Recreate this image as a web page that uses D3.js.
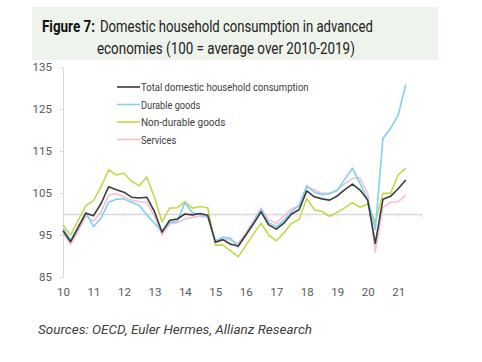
<!DOCTYPE html>
<html>
<head>
<meta charset="utf-8">
<script src="https://cdn.jsdelivr.net/npm/d3@7"></script>
<style>
  html, body { margin: 0; padding: 0; background: #ffffff; }
  svg { display: block; }
  text { font-family: "Liberation Sans Narrow", "Roboto", "Liberation Sans", sans-serif; }
</style>
</head>
<body>
<svg id="chart" width="482" height="362"></svg>
<script>
// ---- Data (quarterly, 2010Q1 .. 2021Q2) ----
const yearLabels = ["10","11","12","13","14","15","16","17","18","19","20","21"];
const seriesNames = ["Total domestic household consumption", "Durable goods", "Non-durable goods", "Services"];
const total = [96.0,93.4,96.8,100.2,99.6,102.5,106.5,105.8,105.2,104.0,103.8,104.0,100.6,95.7,98.5,98.8,
  100.0,99.8,100.1,99.7,93.3,93.9,92.8,92.4,95.0,97.6,100.5,97.4,96.4,97.8,100.0,101.0,
  105.5,104.1,103.6,103.3,104.3,105.8,107.1,105.7,103.3,93.0,103.5,104.2,106.0,108.1];
const durable = [96.6,93.8,97.0,100.4,97.0,99.0,102.8,103.5,103.6,102.8,102.1,99.8,97.8,95.8,98.0,98.3,
  102.7,100.3,99.8,99.3,93.6,94.5,94.2,92.1,95.0,98.0,101.1,97.9,97.0,98.5,100.6,102.1,
  106.7,105.2,104.6,104.9,105.6,108.3,110.9,107.3,103.5,96.3,118.0,120.4,123.5,130.8];
const nonDurable = [97.4,95.0,98.5,102.0,103.2,106.5,110.5,109.3,109.7,107.8,106.7,108.8,104.0,98.2,101.4,101.5,
  102.9,101.4,101.8,101.5,92.6,92.6,91.2,89.8,92.5,95.2,97.8,95.0,93.6,95.5,97.8,98.7,
  103.7,101.0,100.6,99.4,100.4,101.5,102.7,101.6,102.4,97.9,104.9,104.9,109.3,110.9];
const services = [95.4,92.8,96.0,99.5,98.3,100.5,104.5,104.9,104.1,103.3,102.9,102.8,99.5,95.0,97.6,97.9,
  98.8,99.2,99.5,99.3,93.6,94.0,93.8,93.0,95.5,98.5,101.4,98.6,97.8,99.5,101.3,101.8,
  106.4,105.7,104.9,104.9,105.8,107.2,108.5,108.5,105.0,90.9,101.5,102.8,102.9,104.5];
const yTicks = [85, 95, 105, 115, 125, 135];
const colors = ["#3a3a3a", "#7fd0f2", "#c4d84b", "#f3c1cd"];

const svg = d3.select("#chart");

// place text at (x, y) and squeeze it horizontally to a target width (keeps font height)
function squeezed(parent, x0, y0, target, size, str) {
  const t = parent.append("text").attr("x", 0).attr("y", 0).attr("font-size", size).text(str);
  const w = t.node().getComputedTextLength();
  const s = w > 0 ? Math.min(1, target / w) : 1;
  t.attr("transform", `translate(${x0},${y0}) scale(${s},1)`);
  return t;
}

// ---- Title box ----
svg.append("rect").attr("x", 32).attr("y", 7).attr("width", 406).attr("height", 53).attr("fill", "#eef3eb");
squeezed(svg, 42, 32, 53, 16.5, "Figure 7:").attr("font-weight", "bold").attr("fill", "#111");
// re-measure after bold
(function () {
  const t = svg.selectAll("text").filter(function () { return this.textContent === "Figure 7:"; });
  t.attr("transform", null);
  const w = t.node().getComputedTextLength();
  t.attr("transform", `translate(42,32) scale(${Math.min(1, 53 / w)},1)`);
})();
squeezed(svg, 100, 32, 273, 16.5, "Domestic household consumption in advanced").attr("fill", "#222");
squeezed(svg, 97, 54, 258, 16.5, "economies (100 = average over 2010-2019)").attr("fill", "#222");

// ---- Scales ----
const x = d3.scaleLinear().domain([0, 47]).range([63, 421]);
const y = d3.scaleLinear().domain([85, 135]).range([277, 67]);

// Y axis
const yAxis = svg.append("g").attr("transform", "translate(63,0)")
  .call(d3.axisLeft(y).tickValues(yTicks).tickSize(3).tickPadding(8).tickFormat(d3.format("d")));
yAxis.select(".domain").attr("stroke", "#d9d9d9");
yAxis.selectAll(".tick line").attr("stroke", "#d9d9d9");
yAxis.selectAll(".tick text").attr("fill", "#595959").attr("font-size", 11.5)
  .style("font-family", '"Liberation Sans Narrow", "Roboto", sans-serif');

// X axis line at 100
const xIdx = yearLabels.map((d, i) => i * 4);
const xAxis = svg.append("g").attr("transform", `translate(0,${y(100)})`)
  .call(d3.axisBottom(x).tickValues(xIdx).tickSize(3).tickFormat(""));
xAxis.select(".domain").attr("stroke", "#d9d9d9").attr("stroke-width", 1.5);
xAxis.selectAll(".tick line").attr("stroke", "#d9d9d9");

// X labels at bottom
const xLab = svg.append("g").attr("transform", "translate(0,285)")
  .call(d3.axisBottom(x).tickValues(xIdx).tickSize(0).tickPadding(3).tickFormat((d, i) => yearLabels[i]));
xLab.select(".domain").remove();
xLab.selectAll(".tick text").attr("fill", "#595959").attr("font-size", 11.5)
  .style("font-family", '"Liberation Sans Narrow", "Roboto", sans-serif');

// ---- Lines ----
const line = d3.line().x((d, i) => x(i)).y(d => y(d));
const data = [total, durable, nonDurable, services];
[3, 2, 1, 0].forEach(k => {
  svg.append("path").datum(data[k]).attr("d", line)
    .attr("fill", "none").attr("stroke", colors[k]).attr("stroke-width", 1.6)
    .attr("stroke-linejoin", "round");
});

// ---- Legend ----
const legW = [167.6, 59.3, 84.3, 35.3];
const lg = svg.append("g");
seriesNames.forEach((n, k) => {
  const cy = 87 + k * 17.5;
  lg.append("line").attr("x1", 117).attr("x2", 140).attr("y1", cy).attr("y2", cy)
    .attr("stroke", colors[k]).attr("stroke-width", 1.6);
  lg.append("text").attr("x", 141).attr("y", cy + 4).attr("font-size", 11.5).attr("fill", "#404040")
    .attr("textLength", legW[k]).attr("lengthAdjust", "spacingAndGlyphs").text(n);
});

// ---- Source ----
svg.append("text").attr("x", 38).attr("y", 334).attr("font-size", 13).attr("font-style", "italic")
  .attr("fill", "#404040").attr("textLength", 274).attr("lengthAdjust", "spacingAndGlyphs")
  .text("Sources: OECD, Euler Hermes, Allianz Research");
</script>
</body>
</html>
